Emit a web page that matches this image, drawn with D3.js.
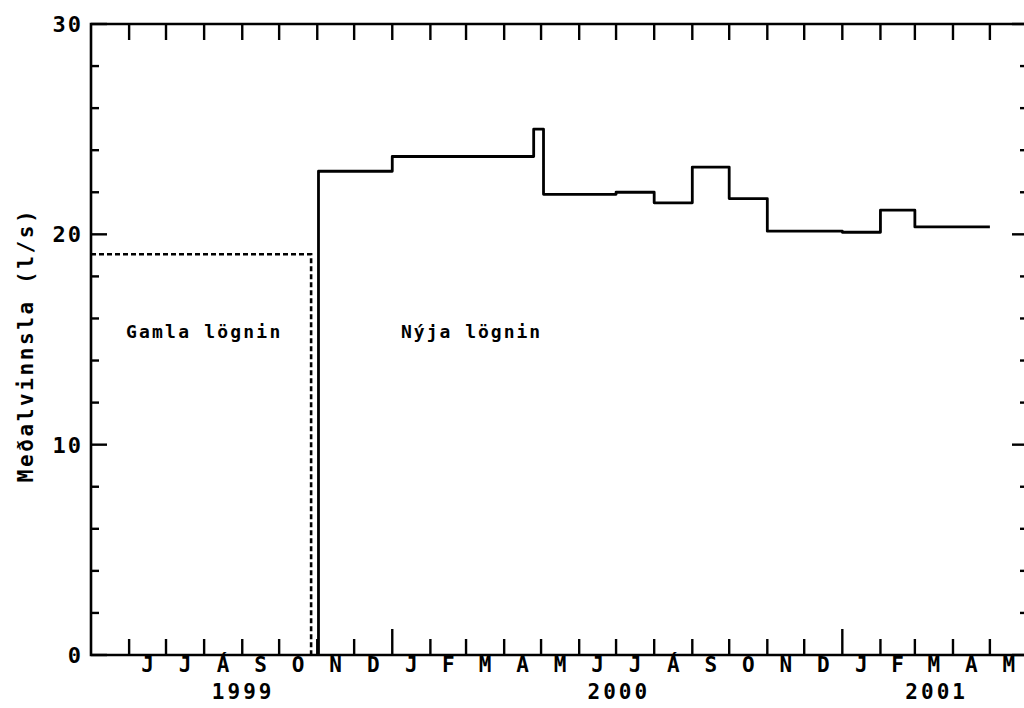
<!DOCTYPE html>
<html>
<head>
<meta charset="utf-8">
<script src="https://cdn.jsdelivr.net/npm/d3@7"></script>
<style>
  html, body { margin: 0; padding: 0; background: #fff; }
  svg { display: block; }
  text { font-family: "DejaVu Sans Mono", "Liberation Mono", monospace; font-weight: bold; fill: #000; }
</style>
</head>
<body>
<svg id="chart" width="1024" height="708"></svg>
<script>
// Old system: average yield until the changeover
const gamlaStart = ["1999-05-01", "1999-10-27"];
const gamlaValues = [19.05, 0];

// New system: average yield per reading period (start dates, last date closes the final period)
const nyjaStart = ["1999-11-02", "2000-01-01", "2000-04-25", "2000-05-03", "2000-07-01",
                   "2000-08-01", "2000-09-01", "2000-10-01", "2000-11-01", "2001-01-01",
                   "2001-02-01", "2001-03-01", "2001-05-01"];
const nyjaValues = [23.0, 23.7, 25.0, 21.9, 22.0, 21.5, 23.2, 21.7, 20.15, 20.1, 21.15, 20.35, 20.35];

// Axis labels
const monthLetters = ["J", "F", "M", "A", "M", "J", "J", "Á", "S", "O", "N", "D"];
const yearLabels = ["1999", "2000", "2001"];
const yTickLabels = [0, 10, 20, 30];
const yAxisTitle = "Meðalvinnsla (l/s)";
const regionLabels = ["Gamla lögnin", "Nýja lögnin"];

const parse = d3.utcParse("%Y-%m-%d");
const svg = d3.select("#chart");

const x = d3.scaleUtc()
  .domain([parse("1999-05-01"), parse("2001-06-01")])
  .range([91, 1028]);
const y = d3.scaleLinear().domain([0, 30]).range([655, 24]);

const x0 = x.range()[0], x1 = x.range()[1];
const yTop = y(30), yBot = y(0);

const ink = "#000";
const axisW = 2.6;

// frame: left, bottom, top, right
const frame = svg.append("g").attr("stroke", ink).attr("stroke-width", axisW).attr("fill", "none");
frame.append("path").attr("d", `M${x0},${yTop}V${yBot}H${x1}V${yTop}H${x0}`).attr("stroke-linecap", "square");

// month ticks on bottom and top
const months = d3.utcMonth.range(parse("1999-06-01"), parse("2001-06-01"));
const ticks = svg.append("g").attr("stroke", ink).attr("stroke-width", 2.4);
months.forEach(m => {
  const isYear = m.getUTCMonth() === 0;
  const xm = x(m);
  ticks.append("line").attr("x1", xm).attr("x2", xm)
    .attr("y1", yBot).attr("y2", yBot - (isYear ? 26 : 16));
  ticks.append("line").attr("x1", xm).attr("x2", xm)
    .attr("y1", yTop).attr("y2", yTop + 16);
});

// value ticks on left and right
d3.range(0, 31, 2).forEach(v => {
  const major = v % 10 === 0;
  const len = major ? 16 : 8;
  const yy = y(v);
  ticks.append("line").attr("x1", x0).attr("x2", x0 + len).attr("y1", yy).attr("y2", yy);
  ticks.append("line").attr("x1", x1).attr("x2", x1 - len).attr("y1", yy).attr("y2", yy);
});

// y tick labels
svg.append("g").selectAll("text").data(yTickLabels).join("text")
  .attr("x", 83).attr("y", d => y(d) + 8)
  .attr("text-anchor", "end")
  .attr("font-size", 22).attr("letter-spacing", 2)
  .text(d => d);

// month letters centred in each month (first month of the domain left blank)
svg.append("g").selectAll("text").data(months).join("text")
  .attr("x", d => (x(d) + x(d3.utcMonth.offset(d, 1))) / 2)
  .attr("y", 672)
  .attr("text-anchor", "middle")
  .attr("font-size", 21)
  .text(d => monthLetters[d.getUTCMonth()]);

// year labels centred on the part of each year inside the axis
svg.append("g").selectAll("text").data(yearLabels).join("text")
  .attr("x", d => {
    const a = d3.max([parse(d + "-01-01"), x.domain()[0]]);
    const b = d3.min([parse((+d + 1) + "-01-01"), x.domain()[1]]);
    return (x(a) + x(b)) / 2 + 1.5;
  })
  .attr("y", 699)
  .attr("text-anchor", "middle")
  .attr("font-size", 21).attr("letter-spacing", 3)
  .text(d => d);

// y axis title
svg.append("text")
  .attr("transform", "translate(33,345) rotate(-90)")
  .attr("text-anchor", "middle")
  .attr("font-size", 21).attr("letter-spacing", 2.6)
  .text(yAxisTitle);

// step lines
const step = d3.line()
  .x(d => x(d.date))
  .y(d => y(d.value))
  .curve(d3.curveStepAfter);

const gamla = gamlaStart.map((s, i) => ({ date: parse(s), value: gamlaValues[i] }));
svg.append("path")
  .attr("d", step(gamla))
  .attr("fill", "none").attr("stroke", ink)
  .attr("stroke-width", 2.6)
  .attr("stroke-dasharray", "5,3");

const nyja = [{ date: parse(nyjaStart[0]), value: 0 }]
  .concat(nyjaStart.map((s, i) => ({ date: parse(s), value: nyjaValues[i] })));
svg.append("path")
  .attr("d", step(nyja))
  .attr("fill", "none").attr("stroke", ink)
  .attr("stroke-width", 2.8)
  .attr("stroke-linejoin", "round");

// region labels
svg.append("text").attr("x", 126).attr("y", 338)
  .attr("font-size", 18).attr("letter-spacing", 2.2).text(regionLabels[0]);
svg.append("text").attr("x", 401).attr("y", 338)
  .attr("font-size", 18).attr("letter-spacing", 2.0).text(regionLabels[1]);
</script>
</body>
</html>
